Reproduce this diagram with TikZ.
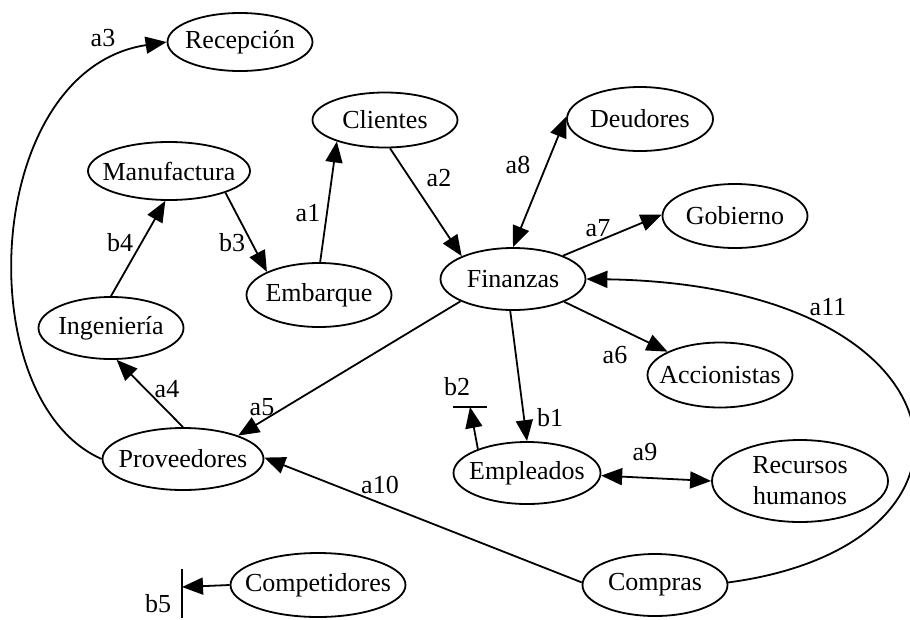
\documentclass[tikz,border=0pt]{standalone}
\usepackage{fontspec}
\setmainfont{Liberation Serif}
\usetikzlibrary{shapes.geometric,arrows.meta}
\newcommand\ctext[1]{\makebox[0pt]{#1}}
\begin{document}
\begin{tikzpicture}[x=1pt,y=-1pt,
  font=\fontsize{26}{31}\selectfont,
  ent/.style={ellipse,draw,line width=1.8pt,inner sep=0pt,minimum width=145pt,minimum height=62pt},
  tip/.tip={Triangle[length=21pt,width=17pt]},
  flow/.style={line width=1.8pt,-tip},
  both/.style={line width=1.8pt,tip-tip},
  bar/.style={line width=2pt},
  lbl/.style={inner sep=0pt}]
\useasboundingbox (0,0) rectangle (910,619);

% entities
\node[ent,minimum height=58pt] (rec) at (240,42) {\ctext{Recepción}};
\node[ent,minimum width=162pt,minimum height=58pt] (man) at (169,171) {\ctext{Manufactura}};
\node[ent,minimum height=55pt] (cli) at (385,120) {\ctext{Clientes}};
\node[ent,minimum width=146pt,minimum height=64pt] (deu) at (640,119) {\ctext{Deudores}};
\node[ent,minimum height=64pt] (gob) at (735,216) {\ctext{Gobierno}};
\node[ent] (fin) at (513,279) {\ctext{Finanzas}};
\node[ent,minimum height=64pt] (emb) at (319,295) {\ctext{Embarque}};
\node[ent] (ing) at (111,328) {\ctext{Ingeniería}};
\node[ent,minimum height=65pt] (acc) at (720,375) {\ctext{Accionistas}};
\node[ent,minimum width=161pt] (pro) at (183,459) {\ctext{Proveedores}};
\node[ent,minimum width=147pt] (emp) at (527,473) {\ctext{Empleados}};
\node[ent,minimum width=176pt,minimum height=82pt,align=center] (rrh) at (800,481) {\ctext{Recursos}\\\ctext{humanos}};
\node[ent] (com) at (655,585) {\ctext{Compras}};
\node[ent,minimum width=175pt,minimum height=64pt] (cpt) at (318,585) {\ctext{Competidores}};

% free ends of the blocked flows
\coordinate (b2end) at (470,407);
\coordinate (b2l) at (453,407);
\coordinate (b2r) at (487,407);
\coordinate (b5end) at (182,587);
\coordinate (b5t) at (182,569);
\coordinate (b5b) at (182,618);

% flows
\draw[flow] (emb.88) -- (cli.204);
\draw[flow] (cli.280) -- (fin.156);
\draw[both] (fin.90) -- (deu.178);
\draw[flow] (fin.25) -- (gob.179);
\draw[flow] (fin.336) -- (acc.156);
\draw[flow] (fin.265) -- (emp.90);
\draw[flow] (emp.154) -- (b2end);
\draw[bar] (b2l) -- (b2r);
\draw[both] (emp.358) -- (rrh.180);
\draw[flow] (com.178) -- (pro.1);
\draw[flow] (fin.203) -- (pro.23);
\draw[flow] (pro.90) -- (ing.280);
\draw[flow] (ing.90) -- (man.263);
\draw[flow] (man.339) -- (emb.156);
\draw[flow] (pro.180) .. controls (-32,400) and (-18,70) .. (rec.180);
\draw[flow] (com.2) .. controls (1010,545) and (975,285) .. (fin.0);
\draw[flow] (cpt.180) -- (b5end);
\draw[bar] (b5t) -- (b5b);

% flow labels
\node[lbl] (la1) at (308,213) {a1};
\node[lbl] (la2) at (439,178) {a2};
\node[lbl] (la3) at (103,38) {a3};
\node[lbl] (la4) at (167,389) {a4};
\node[lbl] (la5) at (262,407) {a5};
\node[lbl] (la6) at (615,355) {a6};
\node[lbl] (la7) at (598,228) {a7};
\node[lbl] (la8) at (518,165) {a8};
\node[lbl] (la9) at (645,452) {a9};
\node[lbl] (la10) at (380,485) {a10};
\node[lbl] (la11) at (828,307) {a11};
\node[lbl] (lb1) at (550,418) {b1};
\node[lbl] (lb2) at (457,387) {b2};
\node[lbl] (lb3) at (232,243) {b3};
\node[lbl] (lb4) at (120,243) {b4};
\node[lbl] (lb5) at (158,604) {b5};
\end{tikzpicture}
\end{document}
